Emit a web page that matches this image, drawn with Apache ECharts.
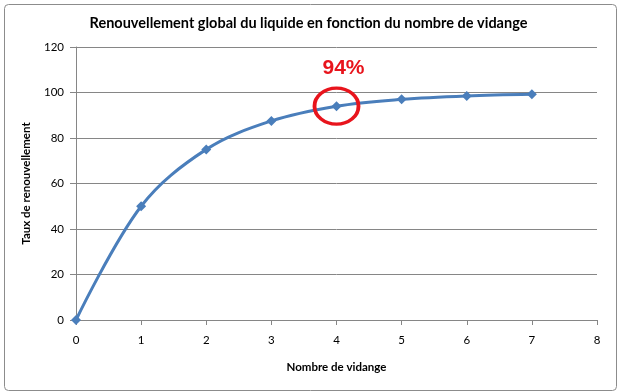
<!DOCTYPE html>
<html><head><meta charset="utf-8">
<script src="https://cdn.jsdelivr.net/npm/echarts@6/dist/echarts.min.js"></script>
<style>html,body{margin:0;padding:0;background:#fff}#c{width:617px;height:392px}</style>
</head><body><div id="c"></div>
<script>
const xValues = [0, 1, 2, 3, 4, 5, 6, 7];
const yValues = [0, 50, 75, 87.5, 94, 97, 98.5, 99.2];
const annotatedIndex = 4;
const annotationText = '94%';
const titleText = 'Renouvellement global du liquide en fonction du nombre de vidange';
const xName = 'Nombre de vidange';
const yName = 'Taux de renouvellement';

const chart = echarts.init(document.getElementById('c'), null, {renderer: 'canvas'});
const font = 'Lato, "Open Sans", sans-serif';
chart.setOption({
  animation: false,
  backgroundColor: '#fff',
  textStyle: {fontFamily: font},
  title: {
    text: titleText, left: 'center', top: 11,
    textStyle: {fontSize: 14.5, fontWeight: 'bold', color: '#000', fontFamily: font}
  },
  graphic: [{
    type: 'rect', left: 2, top: 2, silent: true,
    shape: {width: 612, height: 386, r: 4},
    style: {fill: 'none', stroke: '#8c8c8c', lineWidth: 1}
  }],
  grid: {left: 76, right: 20, top: 47, bottom: 72, containLabel: false},
  xAxis: {
    type: 'value', min: 0, max: 8, interval: 1,
    name: xName, nameLocation: 'middle', nameGap: 41,
    nameTextStyle: {fontSize: 11.5, fontWeight: 'bold', color: '#000', fontFamily: font},
    axisLine: {show: true, lineStyle: {color: '#868686', width: 1}},
    axisTick: {show: true, length: 5, lineStyle: {color: '#868686'}},
    axisLabel: {fontSize: 11.5, color: '#000', margin: 14},
    splitLine: {show: false}
  },
  yAxis: {
    type: 'value', min: 0, max: 120, interval: 20,
    name: yName, nameLocation: 'middle', nameGap: 44, nameRotate: 90,
    nameTextStyle: {fontSize: 11.5, fontWeight: 'bold', color: '#000', fontFamily: font},
    axisLine: {show: true, lineStyle: {color: '#868686', width: 1}},
    axisTick: {show: true, length: 6, lineStyle: {color: '#868686'}},
    axisLabel: {fontSize: 11.5, color: '#000', margin: 12},
    splitLine: {show: true, lineStyle: {color: '#868686', width: 1}}
  },
  series: [{
    type: 'line',
    data: xValues.map((x, i) => [x, yValues[i]]),
    smooth: 0.35,
    symbol: 'diamond', symbolSize: 10,
    lineStyle: {color: '#4a7ebb', width: 3},
    itemStyle: {color: '#4a7ebb'},
    markPoint: {
      symbol: 'circle', symbolSize: [44, 36], silent: true,
      itemStyle: {color: 'rgba(0,0,0,0)', borderColor: '#e8141c', borderWidth: 3.5},
      label: {
        show: true, position: 'top', distance: 8, offset: [7, 0],
        formatter: annotationText,
        fontSize: 21, fontWeight: 'bold', color: '#e8141c', fontFamily: 'Arial, "Liberation Sans", sans-serif'
      },
      data: [{coord: [xValues[annotatedIndex], yValues[annotatedIndex]]}]
    }
  }]
});
</script></body></html>
